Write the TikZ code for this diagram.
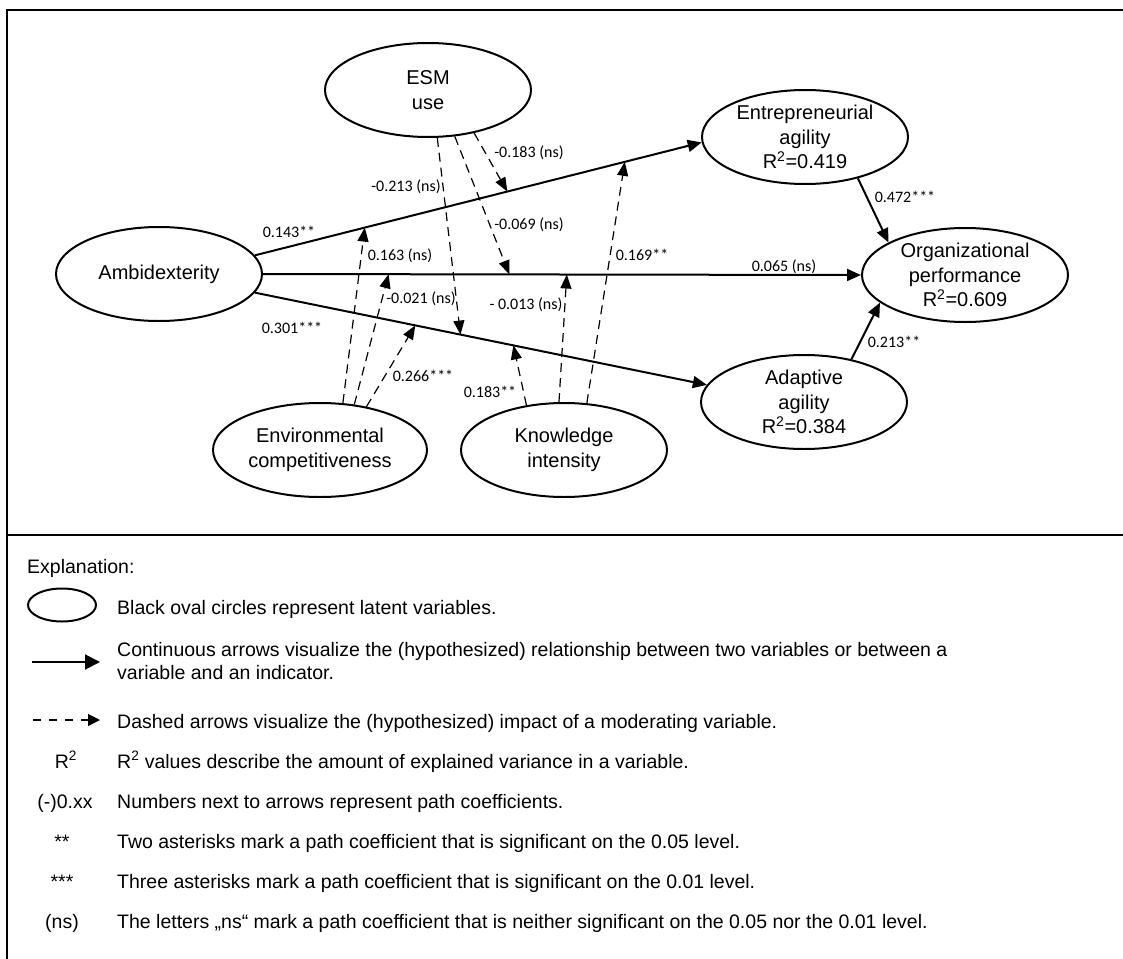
\documentclass[tikz,border=0pt]{standalone}
\usepackage{fontspec}
\setmainfont{Liberation Sans}
\newfontfamily\calib{Carlito}
\usetikzlibrary{arrows.meta,calc,shapes.geometric}
\begin{document}
\begin{tikzpicture}[x=1pt,y=-1pt,
  lv/.style={ellipse,draw,line width=2pt,minimum width=206pt,minimum height=94pt,inner sep=0pt},
  lvtext/.style={align=center,font=\fontsize{20}{24.5}\selectfont,inner sep=0pt},
  rel/.style={line width=2pt,-{Triangle[length=14pt,width=12pt]}},
  mod/.style={line width=1.2pt,dash pattern=on 9pt off 6pt,-{Triangle[length=14pt,width=11pt]}},
  coef/.style={font=\calib\fontsize{16}{18}\selectfont,inner sep=0pt},
  legtext/.style={font=\fontsize{19.5}{23}\selectfont,inner sep=0pt,anchor=base west},
  legsym/.style={font=\fontsize{19.5}{23}\selectfont,inner sep=0pt,anchor=base},
  frame/.style={line width=2pt}
]
\useasboundingbox (0,0) rectangle (1123,958);

% frame
\draw[frame] (1130,10) -- (7,10) -- (7,970);
\draw[frame] (7,535) -- (1130,535);

% latent variables
\node[lv] (ESM) at (428,90) {};
\node[lv] (AMB) at (159,274) {};
\node[lv] (ENT) at (805,137) {};
\node[lv] (ORG) at (965,275) {};
\node[lv] (ADA) at (804,402) {};
\node[lv,minimum width=214pt] (ENV) at (320,450) {};
\node[lv] (KNO) at (564,450) {};

\node[lvtext] (ESMt) at (ESM) {ESM\\use};
\node[lvtext] (AMBt) at (AMB) {Ambidexterity};
\node[lvtext] (ENTt) at (ENT) {Entrepreneurial\\agility\\R\textsuperscript{2}=0.419};
\node[lvtext] (ORGt) at (ORG) {Organizational\\performance\\R\textsuperscript{2}=0.609};
\node[lvtext] (ADAt) at (ADA) {Adaptive\\agility\\R\textsuperscript{2}=0.384};
\node[lvtext] (ENVt) at (ENV) {Environmental\\competitiveness};
\node[lvtext] (KNOt) at (KNO) {Knowledge\\intensity};

% structural paths
\draw[rel] (AMB.11) -- (ENT.183);
\draw[rel] (AMB.east) -- (ORG.west);
\draw[rel] (AMB.-11) -- (ADA.170);
\draw[rel] (ENT.-38) -- (ORG.157);
\draw[rel] (ADA.42) -- (ORG.198);

% points on the paths for moderators
\coordinate (e1) at ($(AMB.11)!0.565!(ENT.183)$);
\coordinate (e2) at ($(AMB.11)!0.246!(ENT.183)$);
\coordinate (e3) at ($(AMB.11)!0.828!(ENT.183)$);
\coordinate (h1) at ($(AMB.east)!0.412!(ORG.west)$);
\coordinate (h2) at ($(AMB.east)!0.21!(ORG.west)$);
\coordinate (h3) at ($(AMB.east)!0.508!(ORG.west)$);
\coordinate (a1) at ($(AMB.-11)!0.455!(ADA.170)$);
\coordinate (a2) at ($(AMB.-11)!0.355!(ADA.170)$);
\coordinate (a3) at ($(AMB.-11)!0.572!(ADA.170)$);

% moderating paths
\draw[mod] (ESM.-79) -- (a1);
\draw[mod] (ESM.-60) -- (h1);
\draw[mod] (ESM.-43) -- (e1);
\draw[mod] (ENV.64) -- (e2);
\draw[mod] (ENV.53) -- (h2);
\draw[mod] (ENV.43) -- (a2);
\draw[mod] (KNO.130) -- (a3);
\draw[mod] (KNO.96) -- (h3);
\draw[mod] (KNO.64) -- (e3);

% coefficients
\node[coef] (l1) at (289,232) {0.143**};
\node[coef] (l2) at (292,328) {0.301***};
\node[coef] (l3) at (406,187) {-0.213 (ns)};
\node[coef] (l4) at (529,153) {-0.183 (ns)};
\node[coef] (l5) at (529,225) {-0.069 (ns)};
\node[coef] (l6) at (400,256) {0.163 (ns)};
\node[coef] (l7) at (421,299) {-0.021 (ns)};
\node[coef] (l8) at (526,305) {- 0.013 (ns)};
\node[coef] (l9) at (423,376) {0.266***};
\node[coef] (l10) at (490,392) {0.183**};
\node[coef] (l11) at (642,255) {0.169**};
\node[coef] (l12) at (784,267) {0.065 (ns)};
\node[coef] (l13) at (905,197) {0.472***};
\node[coef] (l14) at (894,342) {0.213**};

% legend
\node[legtext] (ex) at (27,573) {Explanation:};
\node[ellipse,draw,line width=2pt,minimum width=68pt,minimum height=33pt,inner sep=0pt] (lgE) at (62,605) {};
\node[legtext] (t1) at (117,614) {Black oval circles represent latent variables.};
\coordinate (s1) at (32,662);
\coordinate (s2) at (100,662);
\draw[line width=2pt,-{Triangle[length=15pt,width=15pt]}] (s1) -- (s2);
\node[legtext] (t2a) at (117,656) {Continuous arrows visualize the (hypothesized) relationship between two variables or between a};
\node[legtext] (t2b) at (117,679) {variable and an indicator.};
\coordinate (d1) at (33,720);
\coordinate (d2) at (100,720);
\draw[line width=1.2pt,dash pattern=on 8pt off 8pt,-{Triangle[length=12pt,width=12pt]}] (d1) -- (d2);
\node[legtext] (t3) at (117,728) {Dashed arrows visualize the (hypothesized) impact of a moderating variable.};
\node[legsym] (s4) at (66,768) {R\textsuperscript{2}};
\node[legtext] (t4) at (117,768) {R\textsuperscript{2} values describe the amount of explained variance in a variable.};
\node[legsym] (s5) at (65,808) {(-)0.xx};
\node[legtext] (t5) at (117,808) {Numbers next to arrows represent path coefficients.};
\node[legsym] (s6) at (62,848) {**};
\node[legtext] (t6) at (117,848) {Two asterisks mark a path coefficient that is significant on the 0.05 level.};
\node[legsym] (s7) at (62,888) {***};
\node[legtext] (t7) at (117,888) {Three asterisks mark a path coefficient that is significant on the 0.01 level.};
\node[legsym] (s8) at (62,928) {(ns)};
\node[legtext] (t8) at (117,928) {The letters „ns“ mark a path coefficient that is neither significant on the 0.05 nor the 0.01 level.};
\end{tikzpicture}
\end{document}
